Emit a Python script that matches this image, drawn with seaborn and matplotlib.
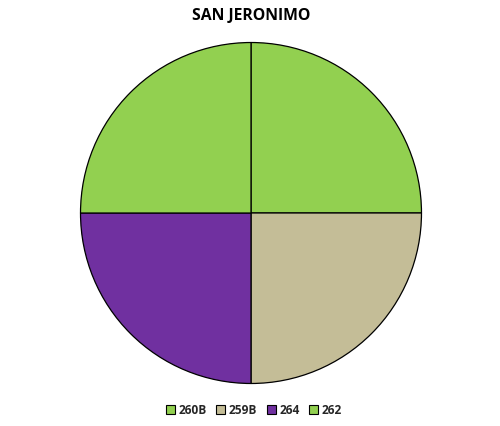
import matplotlib
matplotlib.use("Agg")
import matplotlib.pyplot as plt
import seaborn as sns
from matplotlib.patches import Patch

sns.set_theme(style="white")
plt.rcParams['font.family'] = ['Open Sans', 'DejaVu Sans']

categories = ["260B", "259B", "264", "262"]
values = [1, 1, 1, 1]
colors = ["#92D050", "#C4BD97", "#7030A0", "#92D050"]

fig = plt.figure(figsize=(5.0, 4.26), dpi=100)
cx, cy, r = 251, 213, 171
ax = fig.add_axes([(cx - r) / 500, (426 - cy - r) / 426, 2 * r / 500, 2 * r / 426])
ax.pie(values, colors=colors, startangle=90, counterclock=False,
       wedgeprops=dict(edgecolor="black", linewidth=0.9), radius=1)
ax.set_xlim(-1.003, 1.003)
ax.set_ylim(-1.003, 1.003)
ax.set_aspect("equal")
ax.axis("off")

fig.text(251 / 500, 1 - 16 / 426, "SAN JERONIMO", ha="center", va="center",
         fontsize=11.3, fontweight="bold", color="black")

handles = [Patch(facecolor=c, edgecolor="black", linewidth=0.8, label=l)
           for c, l in zip(colors, categories)]
fig.legend(handles=handles, loc="center", bbox_to_anchor=(254 / 500, 1 - 410 / 426),
           ncol=4, frameon=False, handlelength=0.75, handleheight=0.75,
           handletextpad=0.3, columnspacing=0.8, prop={'weight': 'bold', 'size': 8.6})

fig.savefig("out.png", dpi=100)
